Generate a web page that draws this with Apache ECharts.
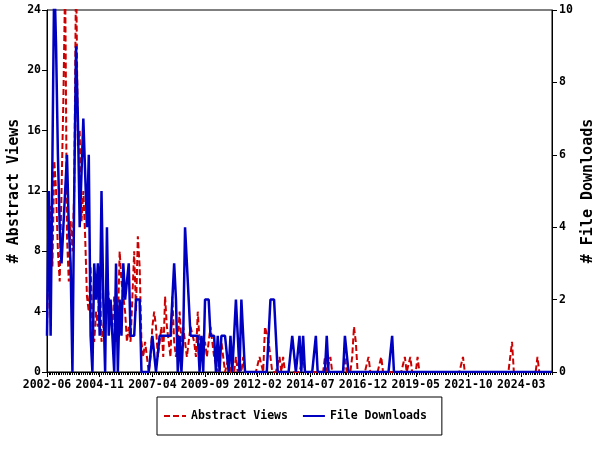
<!DOCTYPE html>
<html>
<head>
<meta charset="utf-8">
<script src="https://cdn.jsdelivr.net/npm/echarts@6/dist/echarts.min.js"></script>
<style>
html,body{margin:0;padding:0;background:#fff;}
#chart{width:600px;height:450px;}
</style>
</head>
<body>
<div id="chart"></div>
<script>
// Monthly categories 2002-06 .. 2025-08
var startYear = 2002, startMonth = 6, monthCount = 279;
var months = [];
for (var k = 0; k < monthCount; k++) {
  var m = startMonth - 1 + k;
  var y = startYear + Math.floor(m / 12);
  var mm = (m % 12) + 1;
  months.push(y + '-' + (mm < 10 ? '0' + mm : '' + mm));
}

var abstractViews = [
  3, 8, 11, 7, 14, 12, 8, 6, 6, 18, 26, 9,
  6, 10, 8, 12, 27, 15, 16, 10, 12, 9, 5, 4,
  7, 3, 2, 4, 3, 7, 2, 3, 4, 6, 6, 4,
  3, 5, 2, 3, 8, 6, 5, 4, 2, 3, 2, 5,
  8, 4, 9, 7, 2, 1, 2, 1, 0, 1, 3, 4,
  3, 1, 2, 3, 1, 5, 3, 2, 1, 5, 2, 1,
  2, 4, 2, 3, 3, 1, 2, 3, 3, 2, 1, 4,
  2, 1, 1, 2, 1, 2, 3, 2, 1, 1, 0, 1,
  2, 1, 0, 0, 1, 0, 0, 0, 1, 0, 1, 0,
  1, 0, 0, 0, 0, 0, 0, 0, 0, 1, 1, 0,
  3, 3, 2, 1, 0, 0, 0, 0, 1, 0, 1, 0,
  0, 0, 0, 0, 0, 0, 0, 0, 0, 1, 0, 0,
  0, 0, 0, 0, 0, 0, 0, 0, 0, 1, 0, 0,
  1, 0, 0, 0, 0, 0, 0, 0, 1, 0, 0, 0,
  1, 3, 2, 0, 0, 0, 0, 0, 0, 1, 0, 0,
  0, 0, 0, 0, 1, 0, 0, 0, 0, 0, 0, 0,
  0, 0, 0, 0, 0, 1, 0, 0, 1, 0, 0, 0,
  1, 0, 0, 0, 0, 0, 0, 0, 0, 0, 0, 0,
  0, 0, 0, 0, 0, 0, 0, 0, 0, 0, 0, 0,
  0, 1, 0, 0, 0, 0, 0, 0, 0, 0, 0, 0,
  0, 0, 0, 0, 0, 0, 0, 0, 0, 0, 0, 0,
  0, 0, 0, 0, 2, 0, 0, 0, 0, 0, 0, 0,
  0, 0, 0, 0, 0, 0, 1, 0, 0, 0, 0, 0,
  0, 0, 0
];

var fileDownloads = [
  1, 5, 1, 6, 11, 9, 6, 4, 3, 4, 4, 6,
  4, 3, 0, 5, 9, 7, 4, 4, 7, 7, 4, 6,
  1, 0, 3, 2, 3, 1, 5, 2, 0, 4, 1, 2,
  2, 0, 3, 0, 2, 1, 3, 2, 2, 3, 1, 1,
  1, 2, 2, 2, 0, 0, 0, 0, 0, 0, 1, 1,
  0, 0, 1, 1, 1, 1, 1, 1, 1, 2, 3, 2,
  0, 1, 0, 1, 4, 3, 2, 1, 1, 1, 1, 1,
  0, 1, 0, 2, 2, 2, 1, 1, 1, 0, 1, 0,
  1, 1, 1, 1, 0, 1, 0, 1, 2, 1, 0, 2,
  1, 0, 0, 0, 0, 0, 0, 0, 0, 0, 0, 0,
  0, 0, 1, 2, 2, 2, 1, 0, 0, 0, 0, 0,
  0, 0, 0, 1, 1, 0, 0, 1, 0, 1, 0, 0,
  0, 0, 0, 0, 1, 0, 0, 0, 0, 0, 1, 0,
  0, 0, 0, 0, 0, 0, 0, 0, 1, 1, 0, 0,
  0, 0, 0, 0, 0, 0, 0, 0, 0, 0, 0, 0,
  0, 0, 0, 0, 0, 0, 0, 0, 0, 0, 1, 0,
  0, 0, 0, 0, 0, 0, 0, 0, 0, 0, 0, 0,
  0, 0, 0, 0, 0, 0, 0, 0, 0, 0, 0, 0,
  0, 0, 0, 0, 0, 0, 0, 0, 0, 0, 0, 0,
  0, 0, 0, 0, 0, 0, 0, 0, 0, 0, 0, 0,
  0, 0, 0, 0, 0, 0, 0, 0, 0, 0, 0, 0,
  0, 0, 0, 0, 0, 0, 0, 0, 0, 0, 0, 0,
  0, 0, 0, 0, 0, 0, 0, 0, 0, 0, 0, 0,
  0, 0, 0
];

var viewsAxis = { min: 0, max: 24, interval: 4 };
var downloadsAxis = { min: 0, max: 10, interval: 2 };
var labelEvery = 29;

var FONT = 'DejaVu Sans Mono';
var chart = echarts.init(document.getElementById('chart'), null, { renderer: 'canvas' });

chart.setOption({
  animation: false,
  backgroundColor: '#ffffff',
  grid: {
    left: 47, right: 48, top: 10, bottom: 78,
    containLabel: false, outerBoundsMode: 'none',
    show: true, borderColor: '#000', borderWidth: 1, backgroundColor: 'transparent'
  },
  legend: {
    data: ['Abstract Views', 'File Downloads'],
    left: 157, top: 397,
    orient: 'horizontal',
    borderColor: '#000', borderWidth: 1,
    padding: [13, 15, 13, 6],
    itemGap: 14, itemWidth: 22, itemHeight: 14,
    itemStyle: { opacity: 0 },
    textStyle: { fontFamily: FONT, fontWeight: 'bold', fontSize: 11.5, color: '#000' }
  },
  xAxis: [
    {
      type: 'category', position: 'bottom', data: months, boundaryGap: false,
      axisLine: { show: true, lineStyle: { color: '#000', width: 1 } },
      axisTick: { show: true, interval: labelEvery - 1, length: 5, lineStyle: { color: '#000' } },
      axisLabel: {
        show: true, interval: labelEvery - 1, margin: 7,
        fontFamily: FONT, fontWeight: 'bold', fontSize: 11.5, color: '#000'
      },
      splitLine: { show: false }
    },
    {
      type: 'category', position: 'bottom', data: months, boundaryGap: false,
      axisLine: { show: false },
      axisTick: { show: true, interval: 0, length: 3, lineStyle: { color: '#000' } },
      axisLabel: { show: false },
      splitLine: { show: false }
    }
  ],
  yAxis: [
    {
      type: 'value', position: 'left',
      min: viewsAxis.min, max: viewsAxis.max, interval: viewsAxis.interval,
      name: '# Abstract Views', nameLocation: 'middle', nameGap: 25, nameRotate: 90,
      nameMoveOverlap: false,
      nameTextStyle: { fontFamily: FONT, fontWeight: 'bold', fontSize: 15, color: '#000' },
      axisLine: { show: true, lineStyle: { color: '#000', width: 1 } },
      axisTick: { show: true, length: 5, lineStyle: { color: '#000' } },
      axisLabel: { margin: 6, fontFamily: FONT, fontWeight: 'bold', fontSize: 11.5, color: '#000' },
      splitLine: { show: false }
    },
    {
      type: 'value', position: 'right',
      min: downloadsAxis.min, max: downloadsAxis.max, interval: downloadsAxis.interval,
      name: '# File Downloads', nameLocation: 'middle', nameGap: 29, nameRotate: 90,
      nameMoveOverlap: false,
      nameTextStyle: { fontFamily: FONT, fontWeight: 'bold', fontSize: 15, color: '#000' },
      axisLine: { show: true, lineStyle: { color: '#000', width: 1 } },
      axisTick: { show: true, length: 5, lineStyle: { color: '#000' } },
      axisLabel: { margin: 7, fontFamily: FONT, fontWeight: 'bold', fontSize: 11.5, color: '#000' },
      splitLine: { show: false }
    }
  ],
  series: [
    {
      name: 'Abstract Views', type: 'line', xAxisIndex: 0, yAxisIndex: 0,
      data: abstractViews, symbol: 'none', showSymbol: false, clip: true,
      itemStyle: { color: '#cc0000' },
      lineStyle: { color: '#cc0000', width: 2, type: [6, 3] }
    },
    {
      name: 'File Downloads', type: 'line', xAxisIndex: 0, yAxisIndex: 1,
      data: fileDownloads, symbol: 'none', showSymbol: false, clip: true,
      itemStyle: { color: '#0000c0' },
      lineStyle: { color: '#0000c0', width: 2.5, type: 'solid' }
    }
  ]
});
</script>
</body>
</html>
